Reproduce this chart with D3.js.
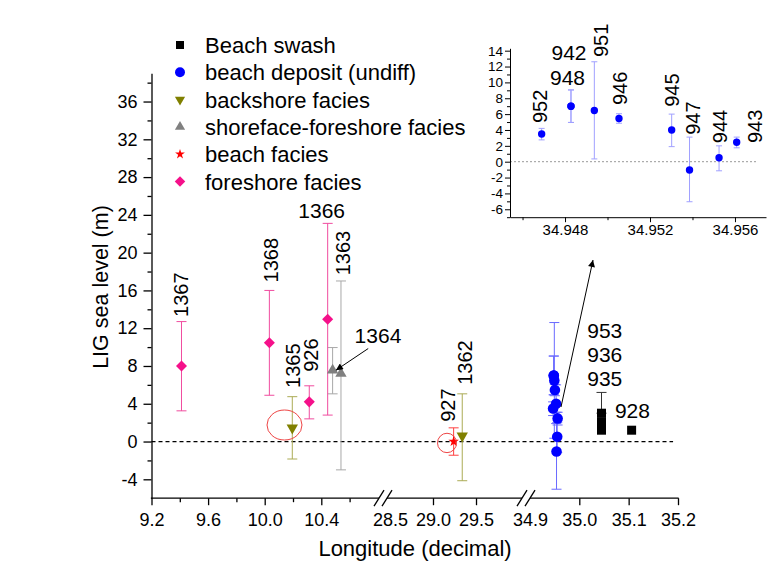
<!DOCTYPE html>
<html>
<head>
<meta charset="utf-8">
<script src="https://cdn.jsdelivr.net/npm/d3@7"></script>
<style>
body { margin: 0; background: #fff; }
svg { display: block; }
</style>
</head>
<body>
<div id="chart"></div>
<script>
var TEXTFONT = 'Liberation Sans';
var WIDTH = 773, HEIGHT = 584;

// ---- values ----
// Beach swash (black squares)
var swashId  = ['953', '936', '935', '928'];
var swashLon = [35.045, 35.045, 35.045, 35.106];
var swashRsl = [3.0, 2.1, 1.2, 1.2];
var swashLo  = [3.0, 2.1, 1.2, 1.2];
var swashHi  = [5.2, 2.1, 1.2, 1.2];

// beach deposit (undiff), blue circles, also shown in the inset
var depositId  = ['952', '948', '942', '951', '946', '945', '947', '944', '943'];
var depositLon = [34.9469, 34.94828, 34.94828, 34.94938, 34.95054, 34.95302, 34.95386, 34.95525, 34.95608];
var depositRsl = [3.5, 7.0, 7.0, 6.45, 5.45, 4.0, -1.05, 0.5, 2.45];
var depositLo  = [2.75, 4.95, 4.95, 0.35, 4.85, 1.9, -5.05, -1.15, 1.75];
var depositHi  = [4.2, 9.05, 9.05, 12.6, 6.05, 6.0, 3.1, 2.0, 3.1];

// backshore facies
var backshoreId  = ['1365', '1362'];
var backshoreLon = [10.195, 29.34];
var backshoreRsl = [1.45, 0.6];
var backshoreLo  = [-1.85, -4.15];
var backshoreHi  = [4.75, 5.05];

// shoreface-foreshore facies
var shorefaceId  = ['1364', '1363'];
var shorefaceLon = [10.48, 10.539];
var shorefaceRsl = [7.55, 7.2];
var shorefaceLo  = [5.05, -3.0];
var shorefaceHi  = [9.95, 17.0];

// beach facies
var beachId  = ['927'];
var beachLon = [29.24];
var beachRsl = [0.0];
var beachLo  = [-1.45];
var beachHi  = [1.45];

// foreshore facies
var foreshoreId  = ['1367', '1368', '926', '1366'];
var foreshoreLon = [9.412, 10.033, 10.315, 10.445];
var foreshoreRsl = [8.0, 10.45, 4.2, 12.95];
var foreshoreLo  = [3.25, 4.9, 2.4, 2.8];
var foreshoreHi  = [12.7, 16.0, 5.9, 23.1];

// ticks
var xTickLabels = [9.2, 9.6, 10.0, 10.4, 28.5, 29.0, 29.5, 34.9, 35.0, 35.1, 35.2];
var xMajorTicks = [9.2, 9.6, 10.0, 10.4, 29.0, 29.5, 35.0, 35.1, 35.2];
var xMinorTicks = [9.4, 9.8, 10.2, 10.6];
var xBreaks = [10.836, 30.081];
var yTickLabels = [-4, 0, 4, 8, 12, 16, 20, 24, 28, 32, 36];
var yMinorTicks = [-2, 2, 6, 10, 14, 18, 22, 26, 30, 34, 38];
var insetXTicks = [34.948, 34.952, 34.956];
var insetXMinor = [34.946, 34.950, 34.954];
var insetYTicks = [-6, -4, -2, 0, 2, 4, 6, 8, 10, 12, 14];
var insetYMinor = [-7, -5, -3, -1, 1, 3, 5, 7, 9, 11, 13];

function zipSeries(ids, lon, rsl, lo, hi) {
    return ids.map(function (id, i) {
        return { 'id' : id, 'lon' : lon[i], 'rsl' : rsl[i], 'lo' : lo[i], 'hi' : hi[i] };
    });
};

var SERIES = [
    { 'name' : 'Beach swash', 'kind' : 'square', 'color' : '#000000', 'err' : '#333333', 'size' : 81, 'lsize' : 64,
      'points' : zipSeries(swashId, swashLon, swashRsl, swashLo, swashHi) },
    { 'name' : 'beach deposit (undiff)', 'kind' : 'circle', 'color' : '#0000ff', 'err' : '#6a6aff', 'size' : 88, 'lsize' : 78,
      'points' : zipSeries(depositId, depositLon, depositRsl, depositLo, depositHi) },
    { 'name' : 'backshore facies', 'kind' : 'down', 'color' : '#808000', 'err' : '#abab55', 'size' : 56, 'lsize' : 45,
      'points' : zipSeries(backshoreId, backshoreLon, backshoreRsl, backshoreLo, backshoreHi) },
    { 'name' : 'shoreface-foreshore facies', 'kind' : 'up', 'color' : '#808080', 'err' : '#a8a8a8', 'size' : 56, 'lsize' : 45,
      'points' : zipSeries(shorefaceId, shorefaceLon, shorefaceRsl, shorefaceLo, shorefaceHi) },
    { 'name' : 'beach facies', 'kind' : 'star', 'color' : '#ff0000', 'err' : '#ff4040', 'size' : 34, 'lsize' : 30,
      'points' : zipSeries(beachId, beachLon, beachRsl, beachLo, beachHi) },
    { 'name' : 'foreshore facies', 'kind' : 'diamond', 'color' : '#f5108a', 'err' : '#f04c9f', 'size' : 61, 'lsize' : 55,
      'points' : zipSeries(foreshoreId, foreshoreLon, foreshoreRsl, foreshoreLo, foreshoreHi) }
];

/** d3 symbol path plus rotation for a marker kind. */
function markerPath(kind, size) {
    var type = { 'square' : d3.symbolSquare, 'circle' : d3.symbolCircle, 'down' : d3.symbolTriangle,
                 'up' : d3.symbolTriangle, 'star' : d3.symbolStar, 'diamond' : d3.symbolSquare }[kind];
    return d3.symbol().type(type).size(size)();
};
function markerRotate(kind) {
    return kind === 'down' ? ' rotate(180)' : kind === 'diamond' ? ' rotate(45)' : '';
};
function addMarker(grp, kind, size, color, cx, cy) {
    return grp.append('path').attr('d', markerPath(kind, size))
        .attr('transform', 'translate(' + cx + ',' + cy + ')' + markerRotate(kind))
        .attr('fill', color).attr('stroke', 'none');
};
/** Vertical error bar with caps. */
function addErrorBar(grp, px, y0, y1, cap, color) {
    if (Math.abs(y0 - y1) < 0.5) {
        return;
    };
    grp.append('line').attr('x1', px).attr('x2', px).attr('y1', y0).attr('y2', y1).attr('stroke', color).attr('stroke-width', 1);
    [y0, y1].forEach(function (yy) {
        grp.append('line').attr('x1', px - cap).attr('x2', px + cap).attr('y1', yy).attr('y2', yy)
            .attr('stroke', color).attr('stroke-width', 1);
    });
};
function addText(grp, txt, px, py, size, anchor, rotated) {
    return grp.append('text').text(txt)
        .attr('transform', 'translate(' + px + ',' + py + ')' + (rotated ? ' rotate(-90)' : ''))
        .attr('text-anchor', anchor || 'start').style('font-size', size + 'px').attr('fill', '#000');
};
function styleAxis(g, width) {
    g.selectAll('line').attr('stroke', '#000').attr('stroke-width', width);
    g.selectAll('path').attr('stroke', '#000').attr('stroke-width', width);
    g.selectAll('text').attr('fill', '#000').style('font-family', TEXTFONT);
    return g;
};
var dash = function (d) { return String(d); };

window.addEventListener('DOMContentLoaded', function () {
    var svg = d3.select('#chart').append('svg').attr('width', WIDTH).attr('height', HEIGHT)
        .style('font-family', TEXTFONT);
    var defs = svg.append('defs');
    defs.append('marker').attr('id', 'arrow').attr('viewBox', '0 0 10 10').attr('refX', 10).attr('refY', 5)
        .attr('markerWidth', 9).attr('markerHeight', 7).attr('markerUnits', 'userSpaceOnUse').attr('orient', 'auto')
        .append('path').attr('d', 'M0,0 L10,5 L0,10 z').attr('fill', '#000');

    // broken longitude axis as one piecewise scale
    var x = d3.scaleLinear()
        .domain([9.2, xBreaks[0], 28.419, xBreaks[1], 34.892, 35.2])
        .range([151.5, 383, 383, 526, 526, 678]);
    var y = d3.scaleLinear().domain([-6, 39]).range([498.2, 73.2]);
    var y0 = y(-6);

    // zero line
    svg.append('line').attr('x1', x(9.2)).attr('x2', x(35.19)).attr('y1', y(0)).attr('y2', y(0))
        .attr('stroke', '#000').attr('stroke-width', 1.2).attr('stroke-dasharray', '4,3');

    // y axis
    var yAx = svg.append('g').attr('transform', 'translate(' + x(9.2) + ',0)');
    yAx.call(d3.axisLeft(y).tickValues(yTickLabels).tickSize(8).tickSizeOuter(0).tickPadding(6).tickFormat(dash));
    yAx.selectAll('text').style('font-size', '18px');
    styleAxis(yAx, 1.3);
    var yMin = svg.append('g').attr('transform', 'translate(' + x(9.2) + ',0)');
    yMin.call(d3.axisLeft(y).tickValues(yMinorTicks).tickSize(4).tickFormat(''));
    yMin.select('.domain').remove();
    styleAxis(yMin, 1.3);

    // x axis: segments, ticks, labels, breaks
    var segs = [[9.2, xBreaks[0]], [xBreaks[0], xBreaks[1]], [xBreaks[1], 35.2]];
    segs.forEach(function (s) {
        svg.append('line').attr('x1', x(s[0]) + (s[0] === 9.2 ? -0.65 : 4)).attr('x2', x(s[1]) - (s[1] === 35.2 ? -0.65 : 4))
            .attr('y1', y0).attr('y2', y0).attr('stroke', '#000').attr('stroke-width', 1.3);
    });
    var xMaj = svg.append('g').attr('transform', 'translate(0,' + y0 + ')');
    xMaj.call(d3.axisBottom(x).tickValues(xMajorTicks).tickSize(7).tickFormat(''));
    xMaj.select('.domain').remove();
    styleAxis(xMaj, 1.3);
    var xMin = svg.append('g').attr('transform', 'translate(0,' + y0 + ')');
    xMin.call(d3.axisBottom(x).tickValues(xMinorTicks).tickSize(4).tickFormat(''));
    xMin.select('.domain').remove();
    styleAxis(xMin, 1.3);
    var xLab = svg.append('g').attr('transform', 'translate(0,' + y0 + ')');
    xLab.call(d3.axisBottom(x).tickValues(xTickLabels).tickSize(0).tickPadding(15).tickFormat(d3.format('.1f')));
    xLab.select('.domain').remove();
    xLab.selectAll('text').style('font-size', '18px');
    styleAxis(xLab, 1.3);
    xBreaks.forEach(function (b) {
        var bx = x(b);
        [-4, 4].forEach(function (off) {
            svg.append('line').attr('x1', bx + off - 5).attr('y1', y0 + 8).attr('x2', bx + off + 5).attr('y2', y0 - 8)
                .attr('stroke', '#000').attr('stroke-width', 1.3);
        });
    });

    // axis titles
    addText(svg, 'LIG sea level (m)', 108, 287, 21.5, 'middle', true);
    addText(svg, 'Longitude (decimal)', 415, 556, 22, 'middle', false);

    // data marks
    var plot = svg.append('g');
    SERIES.forEach(function (s) {
        s.points.forEach(function (p) {
            addErrorBar(plot, x(p.lon), y(p.lo), y(p.hi), 5, s.err);
        });
    });
    SERIES.forEach(function (s) {
        s.points.forEach(function (p) {
            addMarker(plot, s.kind, s.size, s.color, x(p.lon), y(p.rsl));
        });
    });

    // point labels (pixel offsets from the point and its upper cap)
    var find = function (id) {
        var hit = null;
        SERIES.forEach(function (s) { s.points.forEach(function (p) { if (p.id === id) { hit = p; } }); });
        return hit;
    };
    var rotLabels = [['1367', 6.5, -4.7], ['1368', 8.7, -8], ['926', 8.7, -14], ['1365', 7.7, -8.7],
                     ['1363', 9, -5.7], ['927', 1, -6], ['1362', 9.7, -9]];
    rotLabels.forEach(function (l) {
        var p = find(l[0]);
        addText(svg, l[0], x(p.lon) + l[1], y(p.hi) + l[2], 20, 'start', true);
    });
    var p1366 = find('1366');
    addText(svg, '1366', x(p1366.lon) - 6, y(p1366.hi) - 5, 21, 'middle', false);
    var p1364 = find('1364');
    addText(svg, '1364', x(p1364.lon) + 22, y(p1364.rsl) - 27, 21, 'start', false);
    svg.append('line').attr('x1', x(p1364.lon) + 35.6).attr('y1', y(p1364.rsl) - 21.7)
        .attr('x2', x(p1364.lon) + 3.3).attr('y2', y(p1364.rsl)).attr('stroke', '#000').attr('stroke-width', 1)
        .attr('marker-end', 'url(#arrow)');
    var p953 = find('953');
    ['953', '936', '935'].forEach(function (id, i) {
        addText(svg, id, x(p953.lon) - 14.3, y(p953.hi) - 54.7 + i * 24, 21, 'start', false);
    });
    var p928 = find('928');
    addText(svg, '928', x(p928.lon) - 16.7, y(p928.rsl) - 12, 21, 'start', false);

    // red circles around 1365 and 927
    svg.append('ellipse').attr('cx', x(10.14)).attr('cy', y(1.75)).attr('rx', 17.5).attr('ry', 15)
        .attr('fill', 'none').attr('stroke', '#ee4444').attr('stroke-width', 1);
    svg.append('ellipse').attr('cx', x(29.163)).attr('cy', y(-0.15)).attr('rx', 9.5).attr('ry', 9.7)
        .attr('fill', 'none').attr('stroke', '#ee4444').attr('stroke-width', 1);

    // arrow from the blue cluster to the inset
    svg.append('line').attr('x1', 561).attr('y1', 407).attr('x2', 593).attr('y2', 260)
        .attr('stroke', '#000').attr('stroke-width', 1).attr('marker-end', 'url(#arrow)');

    // legend
    SERIES.forEach(function (s, i) {
        var ly = 45 + i * 27.3;
        addMarker(svg, s.kind, s.lsize, s.color, 180, ly);
        addText(svg, s.name, 205, ly + 8, 22, 'start', false);
    });

    // ---- inset ----
    var xi = d3.scaleLinear().domain([34.94541, 34.95746]).range([510, 766]);
    var yi = d3.scaleLinear().domain([-7, 14.3]).range([217.2, 48.3]);
    var inset = svg.append('g');
    inset.append('line').attr('x1', 510).attr('x2', xi(34.9570)).attr('y1', yi(0)).attr('y2', yi(0))
        .attr('stroke', '#999').attr('stroke-width', 1).attr('stroke-dasharray', '2,2');
    var iy = inset.append('g').attr('transform', 'translate(510,0)');
    iy.call(d3.axisLeft(yi).tickValues(insetYTicks).tickSize(5).tickSizeOuter(0).tickPadding(2).tickFormat(dash));
    iy.selectAll('text').style('font-size', '13.5px');
    styleAxis(iy, 1);
    var iym = inset.append('g').attr('transform', 'translate(510,0)');
    iym.call(d3.axisLeft(yi).tickValues(insetYMinor).tickSize(3).tickFormat(''));
    iym.select('.domain').remove();
    styleAxis(iym, 1);
    var ix = inset.append('g').attr('transform', 'translate(0,' + yi(-7) + ')');
    ix.call(d3.axisBottom(xi).tickValues(insetXTicks).tickSize(5).tickSizeOuter(0).tickPadding(2.2).tickFormat(d3.format('.3f')));
    ix.selectAll('text').style('font-size', '15px');
    styleAxis(ix, 1);
    var ixm = inset.append('g').attr('transform', 'translate(0,' + yi(-7) + ')');
    ixm.call(d3.axisBottom(xi).tickValues(insetXMinor).tickSize(3).tickFormat(''));
    ixm.select('.domain').remove();
    styleAxis(ixm, 1);

    var dep = SERIES[1].points;
    dep.forEach(function (p) {
        addErrorBar(inset, xi(p.lon), yi(p.lo), yi(p.hi), 3, '#a0a0ff');
    });
    dep.forEach(function (p) {
        addMarker(inset, 'circle', 43, '#0000ff', xi(p.lon), yi(p.rsl));
    });
    var insetRot = [['952', 5.3, -5.3], ['951', 14, -4.7], ['946', 8, -8.7], ['945', 7.3, -7.3],
                    ['947', 10.7, -2.3], ['944', 8, -2.7], ['943', 25.3, 6]];
    insetRot.forEach(function (l) {
        var p = find(l[0]);
        addText(inset, l[0], xi(p.lon) + l[1], yi(p.hi) + l[2], 20, 'start', true);
    });
    var p948 = find('948');
    addText(inset, '942', xi(p948.lon) - 2, yi(p948.hi) - 30, 21, 'middle', false);
    addText(inset, '948', xi(p948.lon) - 3.5, yi(p948.hi) - 5, 21, 'middle', false);
});
</script>
</body>
</html>
